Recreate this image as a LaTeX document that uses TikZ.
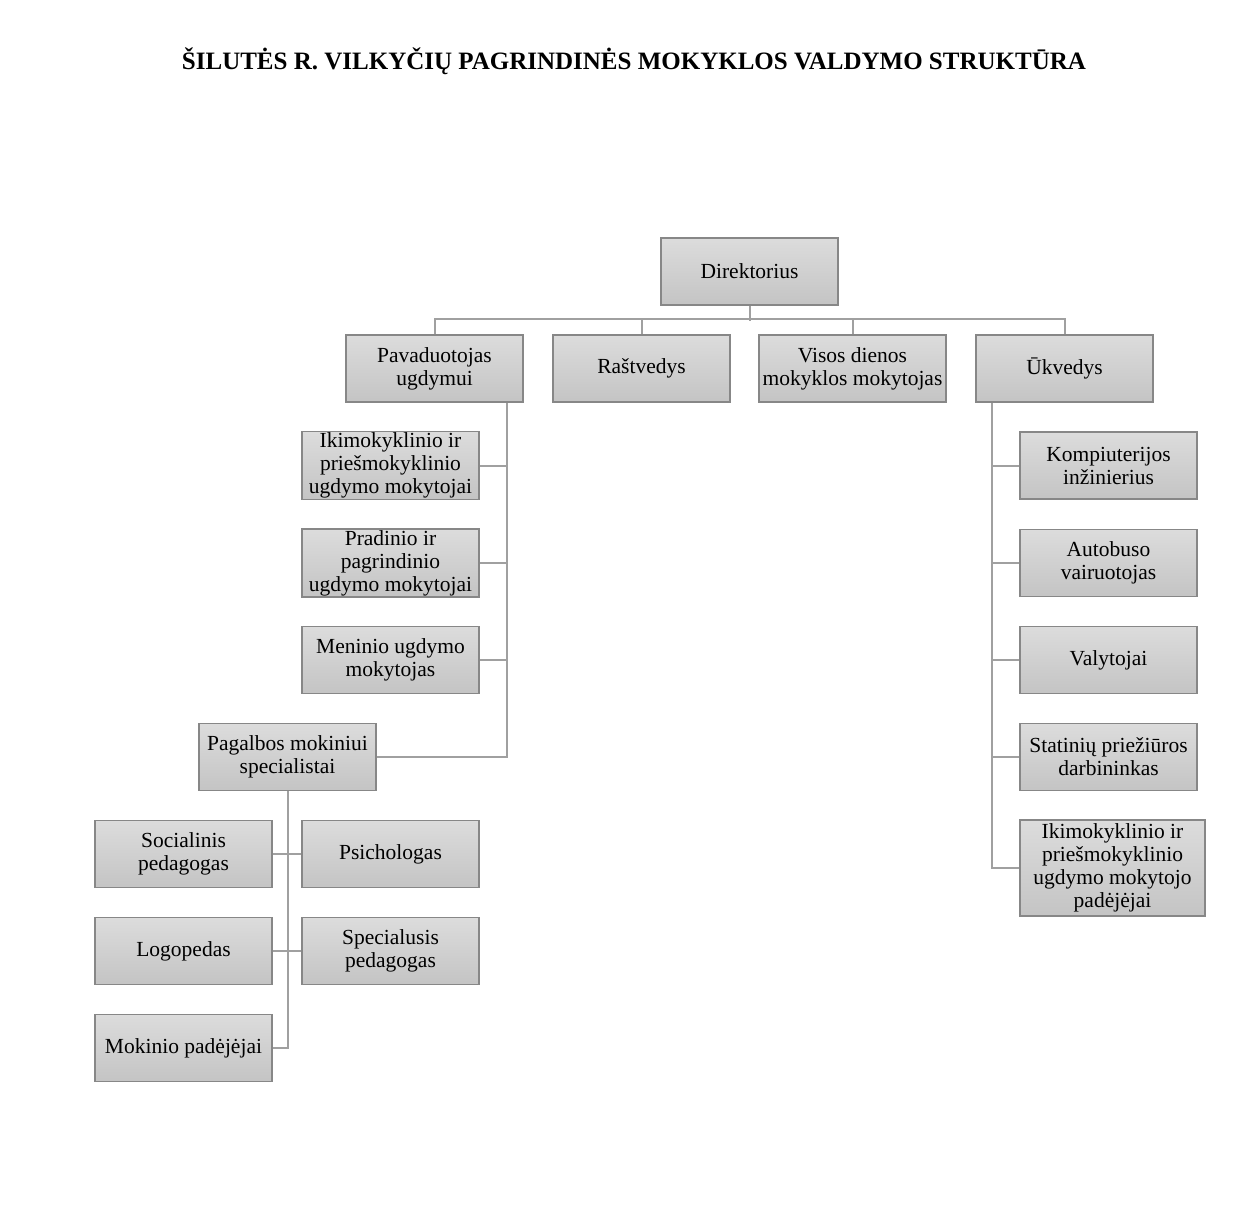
\documentclass[tikz,border=0pt]{standalone}
\usepackage{fontspec}
\setmainfont{Liberation Serif}
\definecolor{boxtop}{HTML}{DCDCDC}
\definecolor{boxbot}{HTML}{C4C4C4}
\definecolor{boxline}{HTML}{878787}
\definecolor{connline}{HTML}{A0A0A0}
\tikzset{
  box/.style={draw=boxline, line width=1.5pt, top color=boxtop, bottom color=boxbot,
    minimum width=177pt, minimum height=67pt, inner sep=1pt, align=center,
    font=\fontsize{21.5}{23}\selectfont},
  conn/.style={draw=connline, line width=2pt},
  titlestyle/.style={font=\fontsize{25}{28}\selectfont\bfseries, inner sep=0pt}
}
\begin{document}
\begin{tikzpicture}[x=1pt,y=-1pt]
\useasboundingbox (0,0) rectangle (1241,1204);
\node[titlestyle, anchor=base] (title) at (634,70) {ŠILUTĖS R. VILKYČIŲ PAGRINDINĖS MOKYKLOS VALDYMO STRUKTŪRA};

% level 0 and 1
\node[box] (dir) at (749.5,271.5) {Direktorius};
\node[box] (pav) at (434.5,368.5) {Pavaduotojas\\ugdymui};
\node[box] (ras) at (641.5,368.5) {Raštvedys};
\node[box, minimum width=187pt] (vis) at (852.5,368.5) {Visos dienos\\mokyklos mokytojas};
\node[box] (ukv) at (1064.5,368.5) {Ūkvedys};

% left column
\node[box] (ikim) at (390.5,465.5) {Ikimokyklinio ir\\priešmokyklinio\\ugdymo mokytojai};
\node[box] (prad) at (390.5,563) {Pradinio ir\\pagrindinio\\ugdymo mokytojai};
\node[box] (men) at (390.5,660) {Meninio ugdymo\\mokytojas};
\node[box] (pag) at (287.5,757) {Pagalbos mokiniui\\specialistai};

% support specialists
\node[box] (soc) at (183.5,854) {Socialinis\\pedagogas};
\node[box] (psi) at (390.5,854) {Psichologas};
\node[box] (log) at (183.5,951) {Logopedas};
\node[box] (spe) at (390.5,951) {Specialusis\\pedagogas};
\node[box] (mok) at (183.5,1048) {Mokinio padėjėjai};

% right column
\node[box] (kom) at (1108.5,465.5) {Kompiuterijos\\inžinierius};
\node[box] (aut) at (1108.5,563) {Autobuso\\vairuotojas};
\node[box] (val) at (1108.5,660) {Valytojai};
\node[box] (sta) at (1108.5,757) {Statinių priežiūros\\darbininkas};
\node[box, minimum width=185pt, minimum height=96pt] (iki2) at (1112.5,868) {Ikimokyklinio ir\\priešmokyklinio\\ugdymo mokytojo\\padėjėjai};

% connectors
\draw[conn] (dir.south) -- ++(0,15);
\draw[conn] (pav.north) -- ++(0,-15) -| (ukv.north);
\draw[conn] (ras.north) -- ++(0,-15);
\draw[conn] (vis.north) -- ++(0,-15);

\coordinate (pavT) at ([xshift=-17pt]pav.south east);
\draw[conn] (pavT) |- (pag.east);
\draw[conn] (ikim.east) -- (ikim.east -| pavT);
\draw[conn] (prad.east) -- (prad.east -| pavT);
\draw[conn] (men.east) -- (men.east -| pavT);

\draw[conn] (pag.south) |- (mok.east);
\draw[conn] (soc.east) -- (psi.west);
\draw[conn] (log.east) -- (spe.west);

\coordinate (ukvT) at ([xshift=17pt]ukv.south west);
\draw[conn] (ukvT) |- (iki2.west);
\draw[conn] (kom.west) -- (kom.west -| ukvT);
\draw[conn] (aut.west) -- (aut.west -| ukvT);
\draw[conn] (val.west) -- (val.west -| ukvT);
\draw[conn] (sta.west) -- (sta.west -| ukvT);
\end{tikzpicture}
\end{document}
